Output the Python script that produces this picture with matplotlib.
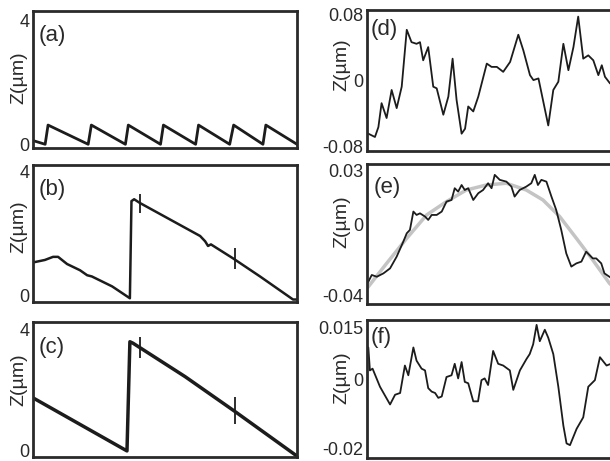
import matplotlib
matplotlib.use("Agg")
import matplotlib.pyplot as plt
import numpy as np

plt.rcParams['font.family'] = ['Liberation Sans', 'DejaVu Sans']

# ---- left column: Z (um) vs position, arbitrary x units 0..100 ----
a_x = [0, 4.6, 5.7, 20.9, 22.1, 35.0, 36.1, 48.3, 49.4, 61.6, 62.7,
       74.5, 76.0, 87.1, 88.2, 100]
a_z = [0.12, 0, 0.62, 0, 0.62, 0, 0.62, 0, 0.62, 0, 0.62,
       0, 0.62, 0, 0.62, 0]

b_x = [0, 4.5, 7.6, 9.5, 12.9, 17.8, 20.5, 22.3, 30.0, 36.7, 37.3, 38.3,
       40.5, 51.9, 63.3, 65.2, 66.3, 67.4, 75.8, 86.0, 98.5, 100]
b_z = [1.07, 1.15, 1.25, 1.25, 1.02, 0.82, 0.66, 0.62, 0.30, -0.08, 3.04, 3.1,
       2.98, 2.45, 1.92, 1.75, 1.60, 1.65, 1.20, 0.62, -0.12, -0.12]
b_spike_x = [40.5, 76.5]
b_spike_lo = [2.66, 0.86]
b_spike_hi = [3.26, 1.54]

c_x = [0, 35.6, 36.7, 37.9, 57.6, 76.5, 100]
c_z = [1.75, 0.0, 3.6, 3.55, 2.45, 1.3, -0.17]
c_spike_x = [40.5, 76.5]
c_spike_lo = [3.07, 0.90]
c_spike_hi = [3.77, 1.77]

# ---- right column: residual profiles ----
d_x = [0.5, 3.0, 4.3, 5.5, 7.4, 9.3, 11.2, 13.1, 15.0, 16.8, 18.7, 20.0,
       21.2, 23.1, 25.0, 26.3, 28.8, 30.7, 32.3, 33.8, 35.7, 37.0, 38.2,
       40.1, 42.0, 45.2, 47.0, 49.0, 51.4, 54.0, 57.1, 59.0, 61.5, 62.8,
       64.7, 68.4, 70.3, 72.2, 74.1, 76.0, 77.9, 79.7, 81.6, 83.5, 85.4,
       87.3, 88.6, 89.8, 91.7, 95.0, 100]
d_z = [-0.065, -0.069, -0.057, -0.028, -0.046, -0.012, -0.034, -0.008,
       0.061, 0.046, 0.044, 0.046, 0.024, 0.040, -0.008, -0.010, -0.042,
       -0.020, 0.026, -0.024, -0.065, -0.059, -0.032, -0.038, -0.020,
       0.020, 0.016, 0.016, 0.010, 0.022, 0.055, 0.036, 0.006, 0.0, 0.002,
       -0.055, -0.012, -0.002, 0.044, 0.012, 0.040, 0.077, 0.026, 0.030,
       0.024, 0.006, 0.018, 0.004, -0.004, -0.010, 0.0]

e_x = [0.5, 1.8, 3.7, 6.2, 8.7, 11.2, 13.7, 15.0, 16.2, 17.5, 18.7, 20.0,
       21.9, 23.1, 24.4, 26.3, 28.2, 30.0, 31.9, 33.1, 34.4, 35.7, 36.9,
       38.2, 40.1, 42.0, 43.8, 45.7, 47.0, 48.2, 50.1, 52.6, 54.5, 55.7,
       57.6, 60.1, 62.0, 63.3, 64.5, 65.8, 67.7, 69.6, 71.4, 73.3, 75.2,
       77.1, 79.0, 80.9, 82.7, 85.2, 86.5, 88.4, 89.6, 95.0]
e_z = [-0.0322, -0.0284, -0.0294, -0.0275, -0.0247, -0.0181, -0.0097,
       -0.0050, -0.0031, 0.0072, 0.0053, 0.0062, 0.0044, 0.0025, 0.0053,
       0.0053, 0.0072, 0.0128, 0.0137, 0.0203, 0.0184, 0.0221, 0.0193,
       0.0203, 0.0137, 0.0175, 0.0193, 0.0231, 0.0203, 0.0278, 0.0250,
       0.0240, 0.0212, 0.0156, 0.0193, 0.0212, 0.0231, 0.0278, 0.0221,
       0.0250, 0.0240, 0.0156, 0.0081, -0.0031, -0.0163, -0.0237, -0.0219,
       -0.0209, -0.0153, -0.0191, -0.0191, -0.0219, -0.0275, -0.0330]
e_fit_x = [0.5, 7.4, 15.0, 22.5, 30.0, 37.5, 45.0, 52.6, 60.1, 66.4, 72.7,
           79.0, 85.2, 91.5, 100]
e_fit_z = [-0.0350, -0.0219, -0.0078, 0.0053, 0.0128, 0.0193, 0.0221,
           0.0231, 0.0193, 0.0137, 0.0044, -0.0078, -0.0200, -0.0331, -0.045]

f_x = [-0.1, 0.5, 1.1, 2.1, 4.9, 8.7, 10.6, 12.5, 14.3, 15.6, 17.5, 18.7,
       20.6, 21.9, 23.1, 24.4, 25.7, 26.9, 28.2, 30.0, 31.9, 33.1, 34.4,
       35.7, 36.9, 38.2, 40.1, 41.9, 43.2, 44.4, 45.7, 47.6, 49.5, 51.4,
       53.9, 55.2, 57.7, 60.2, 61.4, 62.7, 64.0, 65.2, 67.1, 68.4, 70.3,
       72.2, 74.1, 75.3, 76.6, 79.1, 81.6, 83.5, 86.0, 87.9, 90.4, 95.0]
f_z = [0.0064, 0.0092, 0.0026, 0.0031, -0.0021, -0.0072, -0.0044,
       -0.0039, 0.0040, 0.0012, 0.0092, 0.0054, 0.0031, 0.0026, -0.0025,
       -0.0035, -0.0039, -0.0053, -0.0049, 0.0007, 0.0012, 0.0045, 0.0003,
       0.0050, -0.0007, -0.0011, -0.0063, -0.0063, -0.0002, 0.0003,
       -0.0016, 0.0082, 0.0045, 0.0040, 0.0026, -0.0030, 0.0026, 0.0059,
       0.0073, 0.0101, 0.0157, 0.0110, 0.0143, 0.0120, 0.0073, -0.0021,
       -0.0133, -0.0184, -0.0189, -0.0142, -0.0109, -0.0021, -0.0002,
       0.0064, 0.0040, 0.0054]

left_ticks = [0, 4]
d_ticks, d_labels = [-0.08, 0, 0.08], ["-0.08", "0", "0.08"]
e_ticks, e_labels = [-0.04, 0, 0.03], ["-0.04", "0", "0.03"]
f_ticks, f_labels = [-0.02, 0, 0.015], ["-0.02", "0", "0.015"]

W, H = 610, 461
fig = plt.figure(figsize=(W / 100, H / 100), dpi=100)


def box(x0, x1, y0, y1):
    # pixel box -> figure fraction
    return [x0 / W, 1 - y1 / H, (x1 - x0) / W, (y1 - y0) / H]


ink = '#1c1c1c'


def style(ax, label, lab_xy, ylab_xy, pad):
    for s in ax.spines.values():
        s.set_linewidth(2.0)
        s.set_color('#2a2a2a')
    ax.set_xticks([])
    ax.tick_params(axis='y', length=0, pad=pad, labelsize=13, labelcolor='#2a2a2a')
    ax.text(lab_xy[0], lab_xy[1], label, transform=ax.transAxes,
            fontsize=16, va='center', ha='left', color='#2a2a2a')
    ax.set_ylabel("Z(µm)", fontsize=14, color='#2a2a2a')
    ax.yaxis.set_label_coords(*ylab_xy)


axa = fig.add_axes(box(33, 297, 11, 148))
axa.plot(a_x, a_z, color=ink, lw=2.0)
axa.set_xlim(0, 100)
axa.set_ylim(-0.12, 4.3)
axa.set_yticks(left_ticks, ["0", "4"])
style(axa, "(a)", (0.02, 0.82), (-0.02, 0.51), 2.5)

axb = fig.add_axes(box(33, 297, 165, 302))
axb.plot(b_x, b_z, color=ink, lw=1.8)
axb.vlines(b_spike_x, b_spike_lo, b_spike_hi, color=ink, lw=1.3)
axb.set_xlim(0, 100)
axb.set_ylim(-0.2, 4.2)
axb.set_yticks(left_ticks, ["0", "4"])
style(axb, "(b)", (0.02, 0.82), (-0.02, 0.55), 2.5)

axc = fig.add_axes(box(33, 297, 322, 457))
axc.plot(c_x, c_z, color=ink, lw=2.5)
axc.vlines(c_spike_x, c_spike_lo, c_spike_hi, color=ink, lw=1.3)
axc.set_xlim(0, 100)
axc.set_ylim(-0.2, 4.25)
axc.set_yticks(left_ticks, ["0", "4"])
style(axc, "(c)", (0.02, 0.81), (-0.02, 0.57), 2.5)

axd = fig.add_axes(box(367, 632, 10, 151))
axd.plot(d_x, d_z, color=ink, lw=1.3)
axd.set_xlim(0, 100)
axd.set_ylim(-0.086, 0.085)
axd.set_yticks(d_ticks, d_labels)
style(axd, "(d)", (0.015, 0.86), (-0.064, 0.61), 2.5)

axe = fig.add_axes(box(367, 632, 164, 304))
axe.plot(e_fit_x, e_fit_z, color='#c4c4c4', lw=2.5)
axe.plot(e_x, e_z, color=ink, lw=1.3)
axe.set_xlim(0, 100)
axe.set_ylim(-0.0447, 0.0339)
axe.set_yticks(e_ticks, e_labels)
style(axe, "(e)", (0.025, 0.83), (-0.064, 0.59), 2.5)

axf = fig.add_axes(box(367, 632, 320, 458))
axf.plot(f_x, f_z, color=ink, lw=1.3)
axf.set_xlim(0, 100)
axf.set_ylim(-0.0226, 0.0171)
axf.set_yticks(f_ticks, f_labels)
style(axf, "(f)", (0.015, 0.875), (-0.064, 0.58), 2.5)

fig.savefig("out.png", dpi=100)
